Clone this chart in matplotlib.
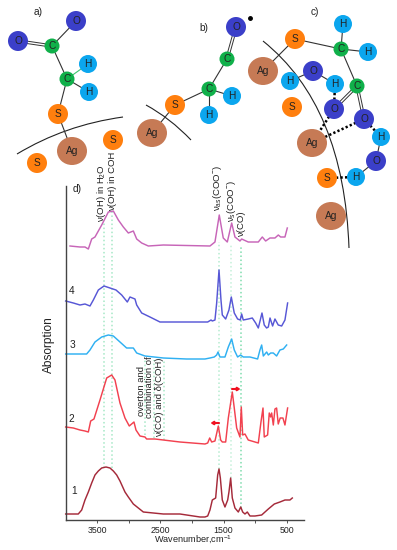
import numpy as np
import matplotlib
matplotlib.use('Agg')
import matplotlib.pyplot as plt
from matplotlib.patches import Ellipse, PathPatch
from matplotlib.path import Path

plt.rcParams['font.family'] = ['Liberation Sans', 'DejaVu Sans']
plt.rcParams['mathtext.default'] = 'regular'
plt.rcParams['mathtext.fontset'] = 'custom'
plt.rcParams['mathtext.rm'] = 'Liberation Sans'

# spectra, wavenumber / absorption (arbitrary units with offsets)
wn1 = [3995, 3796, 3742, 3690, 3637, 3584, 3532, 3479, 3426, 3358, 3295, 3242, 3189, 3137, 3058, 3005, 2926, 2768, 2452, 2189,
       1873, 1794, 1751, 1715, 1678, 1625, 1593, 1572, 1551, 1520, 1478, 1435, 1415, 1388, 1362, 1320, 1267, 1229,
       1198, 1162, 1125, 1083, 1004, 898, 793, 698, 609, 530, 451, 414]
abs1 = [6, 6, 10, 20, 28, 37, 45, 49, 52, 53, 52, 49, 45, 39, 28, 23, 16, 8, 6, 6,
        3, 3, 4, 10, 20, 22, 45, 51, 42, 20, 13, 20, 28, 42, 22, 12, 8, 13,
        8, 6, 8, 4, 4, 5, 11, 16, 18, 20, 20, 22]

wn2 = [3995, 3874, 3769, 3690, 3637, 3600, 3548, 3453, 3347, 3268, 3216, 3137, 3058, 2990, 2916, 2884, 2821, 2742, 2716,
       2584, 2452, 2189, 1794, 1751, 1719, 1688, 1636, 1583, 1546, 1520, 1467, 1425, 1362, 1331, 1293, 1241, 1220, 1198,
       1162, 1110, 1004, 951, 909, 877, 857, 804, 778, 756, 740, 714, 688, 662, 636, 605, 562, 530, 488]
abs2 = [93, 92, 90, 89, 88, 99, 101, 120, 142, 145, 140, 117, 102, 94, 98, 90, 84, 83, 81,
        81, 80, 78, 76, 77, 82, 78, 79, 94, 80, 78, 78, 102, 128, 112, 92, 83, 113, 85,
        86, 80, 78, 77, 98, 112, 83, 85, 107, 103, 107, 95, 111, 112, 96, 102, 102, 95, 112]

wn3 = [3995, 3874, 3769, 3664, 3611, 3532, 3426, 3321, 3242, 3137, 3032, 2926, 2873, 2742, 2452, 2084, 1794, 1715, 1647,
       1609, 1588, 1557, 1478, 1425, 1372, 1331, 1278, 1231, 1189, 1083, 962, 925, 898, 872, 819, 793, 755, 714, 662, 609, 556, 503]
abs3 = [166, 166, 166, 166, 170, 178, 183, 185, 184, 178, 172, 172, 167, 164, 162, 161, 161, 162, 163,
        165, 168, 163, 163, 173, 181, 170, 163, 165, 163, 163, 161, 170, 175, 164, 168, 165, 167, 167, 164, 170, 171, 175]

wn4 = [3995, 3874, 3769, 3690, 3611, 3558, 3479, 3389, 3295, 3200, 3110, 3021, 2979, 2900, 2873, 2794, 2663, 2505, 2189,
       1794, 1751, 1698, 1678, 1636, 1609, 1572, 1541, 1520, 1467, 1415, 1378, 1331, 1278, 1236, 1214, 1189, 1110, 1046,
       993, 951, 920, 893, 857, 820, 793, 766, 725, 688, 636, 582, 530, 488]
abs4 = [219, 217, 215, 216, 214, 220, 230, 234, 232, 230, 225, 218, 223, 221, 215, 207, 203, 198, 198,
        198, 198, 200, 199, 200, 217, 250, 220, 205, 201, 210, 223, 207, 201, 200, 206, 200, 201, 202,
        197, 192, 200, 207, 195, 192, 193, 202, 194, 201, 195, 194, 200, 217]

wn5 = [3927, 3769, 3690, 3637, 3584, 3532, 3426, 3321, 3242, 3163, 3084, 3005, 2926, 2873, 2794, 2689, 2452, 1715, 1636,
       1568, 1505, 1441, 1372, 1320, 1241, 1214, 1110, 951, 888, 835, 767, 688, 635, 598, 530, 493]
abs5 = [274, 273, 273, 271, 281, 283, 295, 308, 309, 300, 293, 287, 289, 281, 277, 274, 275, 274, 278,
        305, 282, 278, 297, 283, 279, 281, 278, 278, 283, 279, 282, 282, 285, 283, 283, 292]

xticks = [3500, 3000, 2500, 2000, 1500, 1000, 500]
xticklabels = ['3500', '', '2500', '', '1500', '', '500']

# green guide lines: wavenumber, bottom, top
guides_wn = [3389, 3258, 1572, 1383, 1225, 2742, 2600, 2441]
guides_lo = [52, 52, 51, 42, 12, 85, 82, 80]
guides_hi = [298, 309, 278, 275, 275, 160, 160, 160]
guides_col = ['#a5e8c6', '#a5e8c6', '#b5ecd0', '#c5f0da', '#7fdcae', '#a5e8c6', '#a5e8c6', '#a5e8c6']

fig = plt.figure(figsize=(3.97, 5.5), dpi=100)
ax = fig.add_axes([66 / 397, 30 / 550, 238 / 397, 334 / 550])

for g, lo, hi, c in zip(guides_wn, guides_lo, guides_hi, guides_col):
    ax.plot([g, g], [lo, hi], color=c, lw=1.1, ls=':', zorder=1)

for w, a, c in [(wn1, abs1, '#a52a3a'), (wn2, abs2, '#f2414f'), (wn3, abs3, '#2fb0f2'),
                (wn4, abs4, '#5757d6'), (wn5, abs5, '#c765b8')]:
    ax.plot(w, a, color=c, lw=1.05, clip_on=False, zorder=2, solid_joinstyle='round')

ax.set_xlim(3990, 229)
ax.set_ylim(0, 334)
ax.set_xticks(xticks)
ax.set_xticklabels(xticklabels, fontsize=6.3, color='#222222')
ax.set_yticks([])
ax.tick_params(axis='x', length=2, width=0.7, color='#555555', pad=2.5)
ax.spines['top'].set_visible(False)
ax.spines['right'].set_visible(False)
ax.spines['left'].set_color('#444444')
ax.spines['bottom'].set_color('#444444')
ax.spines['left'].set_linewidth(1)
ax.spines['bottom'].set_linewidth(1)
ax.patch.set_alpha(0)

# overlay in picture pixels for the molecules and the free labels
ov = fig.add_axes([0, 0, 1, 1])
ov.set_xlim(0, 397)
ov.set_ylim(550, 0)
ov.axis('off')

COL = {'O': '#3b3fc9', 'C': '#10b04a', 'H': '#0ba6ee', 'S': '#ff7f0e', 'Ag': '#c67a55'}
RAD = {'O': 10, 'C': 7.5, 'H': 9, 'S': 10, 'Ag': 15}


def atom(name, x, y):
    r = RAD[name]
    ry = r - 1 if name == 'Ag' else r
    ov.add_patch(Ellipse((x, y), 2 * r, 2 * ry, color=COL[name], lw=0, zorder=5))
    ov.text(x, y, name, fontsize=7.3, ha='center', va='center', color='#222222', zorder=6)


def bond(p, q, color='#333333'):
    ov.plot([p[0], q[0]], [p[1], q[1]], color=color, lw=0.8, zorder=3)


def double(p, q):
    d = np.array(q, float) - np.array(p, float)
    n = np.array([-d[1], d[0]]) / np.hypot(*d) * 1.2
    for s in (-1, 1):
        ov.plot([p[0] + s * n[0], q[0] + s * n[0]], [p[1] + s * n[1], q[1] + s * n[1]], color='#333333', lw=0.7, zorder=3)


def dotted(p, q):
    ov.plot([p[0], q[0]], [p[1], q[1]], color='black', lw=1.8, ls=(0, (0.9, 0.9)), zorder=4)


def curve(p0, c, p1):
    ov.add_patch(PathPatch(Path([p0, c, p1], [Path.MOVETO, Path.CURVE3, Path.CURVE3]), fc='none', ec='#222222', lw=0.8, zorder=3))


# a)
curve((17, 154), (65, 125), (123, 117))
double((18, 41), (52, 46))
bond((52, 46), (76, 21))
bond((52, 46), (67, 79))
bond((67, 79), (88, 64), '#3fc46f')
bond((67, 79), (89, 92))
bond((67, 79), (58, 114))
bond((58, 114), (72, 151))
for n, x, y in [('O', 76, 21), ('O', 18, 41), ('C', 52, 46), ('C', 67, 79), ('H', 88, 64), ('H', 89, 92),
                ('S', 58, 114), ('Ag', 72, 151), ('S', 113, 140), ('S', 37, 163)]:
    atom(n, x, y)

# b)
curve((146, 105), (170, 118), (191, 140))
bond((152, 133), (175, 105))
bond((175, 105), (209, 89))
bond((209, 89), (227, 59))
double((227, 59), (236, 27))
bond((209, 89), (232, 96))
bond((209, 89), (209, 115))
for n, x, y in [('S', 175, 105), ('Ag', 152, 133), ('C', 209, 89), ('C', 227, 59), ('O', 236, 27),
                ('H', 232, 96), ('H', 209, 115)]:
    atom(n, x, y)
ov.plot([250], [18], 'o', color='black', ms=2.5, zorder=6)

# c)
curve((263, 41), (344, 106), (349, 248))
bond((263, 71), (295, 39))
bond((295, 39), (341, 49))
bond((341, 49), (343, 24))
bond((341, 49), (368, 52))
bond((341, 49), (357, 86))
double((357, 86), (334, 109))
double((357, 86), (364, 119))
bond((290, 81), (313, 71))
bond((313, 71), (335, 84))
bond((381, 137), (376, 161))
bond((376, 161), (356, 177))
dotted((335, 84), (334, 109))
dotted((334, 109), (312, 143))
dotted((364, 119), (312, 143))
dotted((364, 119), (381, 137))
dotted((327, 178), (356, 177))
for n, x, y in [('H', 343, 24), ('S', 295, 39), ('C', 341, 49), ('H', 368, 52), ('Ag', 263, 71), ('O', 313, 71),
                ('H', 290, 81), ('H', 335, 84), ('C', 357, 86), ('O', 334, 109), ('S', 292, 107), ('O', 364, 119),
                ('Ag', 312, 143), ('H', 381, 137), ('O', 376, 161), ('H', 356, 177), ('S', 327, 178), ('Ag', 331, 216)]:
    atom(n, x, y)

# panel letters and numbers
for s, x, y in [('a)', 38, 12), ('b)', 204, 28), ('c)', 315, 12), ('d)', 77, 189),
                ('4', 72, 291), ('3', 72, 345), ('2', 71, 419), ('1', 74, 491)]:
    ov.text(x, y, s, fontsize=7.3, ha='center', va='center', color='#222222')

ov.text(49, 345, 'Absorption', fontsize=8.6, rotation=90, ha='center', va='center', color='#222222')
ov.text(193, 540, 'Wavenumber,cm$^{-1}$', fontsize=6.6, ha='center', va='center', color='#222222')

# band labels, rotated, anchored at their lower end
for s, x, y in [('ν(OH) in H$_2$O', 101, 222), ('ν(OH) in COH', 113, 211),
                ('ν$_{as}$(COO$^{-}$)', 218, 211), ('ν$_{s}$(COO$^{-}$)', 232, 222), ('ν(CO)', 242, 237),
                ('overton and', 141, 416), ('combination of', 150, 418), ('ν(CO) and δ(COH)', 160, 437)]:
    ov.text(x, y, s, fontsize=6.8, rotation=90, ha='center', va='bottom', color='#222222')

# red shift arrows
arrow = dict(arrowstyle='-|>,head_width=0.09,head_length=0.14', color='#f01020', lw=1.5, shrinkA=0, shrinkB=0)
ov.annotate('', xy=(210.5, 423), xytext=(219, 423), arrowprops=arrow)
ov.annotate('', xy=(240.5, 389), xytext=(232, 389), arrowprops=arrow)

fig.savefig('out.png', dpi=100)
